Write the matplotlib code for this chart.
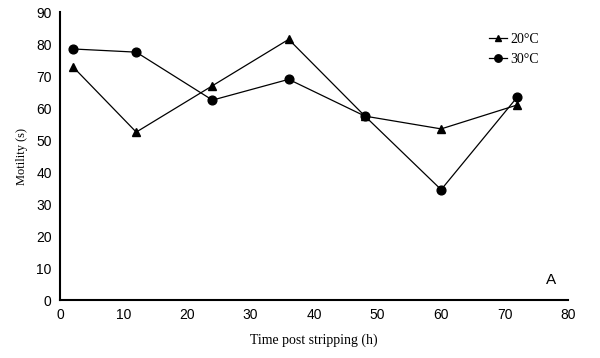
import matplotlib.pyplot as plt

tempo = [2, 12, 24, 36, 48, 60, 72]
mot_20 = [73, 52.5, 67, 81.5, 57.5, 53.5, 61]
mot_30 = [78.5, 77.5, 62.5, 69, 57.5, 34.5, 63.5]
xticks = [0, 10, 20, 30, 40, 50, 60, 70, 80]
yticks = [0, 10, 20, 30, 40, 50, 60, 70, 80, 90]

fig = plt.figure(figsize=(6, 3.58), dpi=100)
ax = fig.add_axes([0.1, 0.162, 0.847, 0.804])

ax.plot(tempo, mot_20, color='black', lw=0.9, marker='^', ms=5.5, label='20°C')
ax.plot(tempo, mot_30, color='black', lw=0.9, marker='o', ms=6.3, label='30°C')

ax.set_xlim(0, 80)
ax.set_ylim(0, 90)
ax.set_xticks(xticks)
ax.set_yticks(yticks)
ax.tick_params(length=0, pad=6, labelsize=10)
for lab in ax.get_xticklabels() + ax.get_yticklabels():
    lab.set_family('Liberation Sans')
ax.spines['top'].set_visible(False)
ax.spines['right'].set_visible(False)
ax.spines['left'].set_linewidth(1.5)
ax.spines['bottom'].set_linewidth(1.5)

ax.set_xlabel('Time post stripping (h)', family='Liberation Serif', fontsize=10, labelpad=8)
ax.set_ylabel('Motility (s)', family='Liberation Serif', fontsize=9, labelpad=6)

ax.legend(loc='upper left', bbox_to_anchor=(0.82, 0.97), frameon=False,
          handlelength=1.3, handletextpad=0.2, labelspacing=0.5, markerscale=0.85,
          prop={'family': 'Liberation Serif', 'size': 10})
ax.text(76.5, 5, 'A', family='Liberation Sans', fontsize=11)

plt.savefig('out.png', dpi=100)
